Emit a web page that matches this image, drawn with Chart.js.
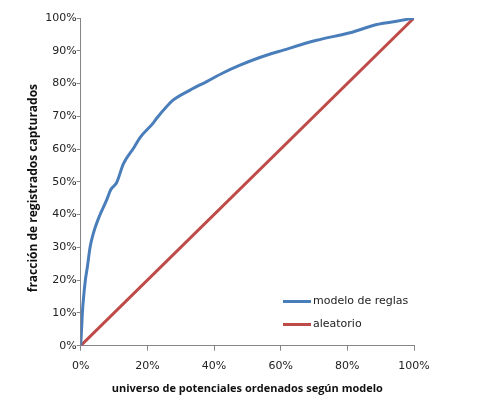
<!DOCTYPE html>
<html>
<head>
<meta charset="utf-8">
<script src="https://cdn.jsdelivr.net/npm/chart.js@4.4.1/dist/chart.umd.min.js"></script>
<style>
  html, body { margin: 0; padding: 0; background: #fff; }
  #wrap { width: 481px; height: 407px; }
</style>
</head>
<body>
<div id="wrap"><canvas id="gainChart" width="481" height="407"></canvas></div>
<script>
// --- data (percent units) ---
const modelX = [0, 0.3, 0.5, 0.8, 1.4, 2.0, 2.8, 3.8, 5.6, 7.8, 9.0, 10.8, 12.8, 16.0, 17.8, 21.8, 22.8, 25.8, 27.8, 32.8, 37.8, 42.8, 47.8, 53.3, 60.8, 70.8, 80.8, 88.8, 94.8, 100];
const modelY = [0, 5.8, 10, 14, 20, 24, 30, 34.3, 39.5, 44.5, 47.6, 49.8, 55.5, 60.5, 63.5, 68, 69.4, 73, 75, 78, 80.6, 83.3, 85.6, 87.8, 90.2, 93.2, 95.5, 98, 99, 100];
const randomX = [0, 100];
const randomY = [0, 100];
const xTicks = [0, 20, 40, 60, 80, 100];
const yTicks = [0, 10, 20, 30, 40, 50, 60, 70, 80, 90, 100];
const seriesNames = ['modelo de reglas', 'aleatorio'];
const seriesColors = ['#4A7EBB', '#BE4B48'];

const toPoints = (xs, ys) => xs.map((x, i) => ({ x: x, y: ys[i] }));

// legend drawn inside the plot, bottom right
const innerLegend = {
    id: 'innerLegend',
    afterDatasetsDraw(chart) {
        const ctx = chart.ctx;
        ctx.save();
        ctx.font = '11px "DejaVu Sans", sans-serif';
        ctx.textBaseline = 'middle';
        ctx.fillStyle = '#222';
        seriesNames.forEach((name, i) => {
            const y = 301.5 + i * 23;
            ctx.strokeStyle = seriesColors[i];
            ctx.lineWidth = 3;
            ctx.beginPath();
            ctx.moveTo(283, y);
            ctx.lineTo(311, y);
            ctx.stroke();
            ctx.fillText(name, 313, y);
        });
        ctx.restore();
    }
};

const axisColor = '#868686';
const tickFont = { family: '"DejaVu Sans", sans-serif', size: 11 };

new Chart(document.getElementById('gainChart'), {
    type: 'line',
    data: {
        datasets: [{
            label: seriesNames[0],
            data: toPoints(modelX, modelY),
            borderColor: seriesColors[0],
            borderWidth: 3,
            pointRadius: 0,
            cubicInterpolationMode: 'monotone',
            fill: false
        }, {
            label: seriesNames[1],
            data: toPoints(randomX, randomY),
            borderColor: seriesColors[1],
            borderWidth: 3,
            pointRadius: 0,
            fill: false
        }]
    },
    options: {
        responsive: false,
        animation: false,
        devicePixelRatio: 1,
        layout: { padding: { top: 18, right: 67, left: 0, bottom: 0 } },
        plugins: { legend: { display: false }, tooltip: { enabled: false } },
        scales: {
            x: {
                type: 'linear',
                min: 0,
                max: 100,
                afterBuildTicks: (s) => { s.ticks = xTicks.map(v => ({ value: v })); },
                afterFit: (s) => { s.height = 61.3; },
                ticks: {
                    callback: (v) => v + '%',
                    color: '#222',
                    font: tickFont,
                    padding: 9,
                    maxRotation: 0
                },
                grid: { drawOnChartArea: false, tickLength: 5, color: axisColor },
                border: { color: axisColor, width: 1 },
                title: {
                    display: true,
                    text: 'universo de potenciales ordenados según modelo',
                    color: '#111',
                    font: { family: '"Open Sans", sans-serif', size: 11, weight: 'bold' },
                    padding: { top: 0, bottom: 12 }
                }
            },
            y: {
                min: 0,
                max: 100,
                afterBuildTicks: (s) => { s.ticks = yTicks.map(v => ({ value: v })); },
                afterFit: (s) => { s.width = 80.7; },
                ticks: {
                    callback: (v) => v + '%',
                    color: '#222',
                    font: tickFont,
                    padding: 0
                },
                grid: { drawOnChartArea: false, tickLength: 4, color: axisColor },
                border: { color: axisColor, width: 1 },
                title: {
                    display: true,
                    text: 'fracción de registrados capturados    ',
                    color: '#111',
                    font: { family: '"Open Sans", sans-serif', size: 12, weight: 'bold' },
                    padding: { top: 26, bottom: 0 }
                }
            }
        }
    },
    plugins: [innerLegend]
});
</script>
</body>
</html>
